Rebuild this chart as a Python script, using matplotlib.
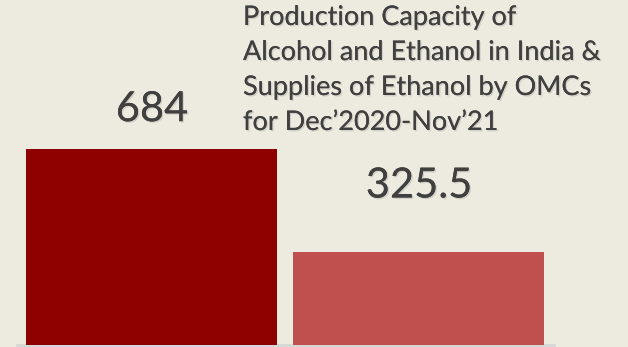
import matplotlib.pyplot as plt
import matplotlib.patheffects as pe

# data
categories = ['Production Capacity', 'Supplies by OMCs']
values = [684, 325.5]
labels = ['684', '325.5']
colors = ['#8E0000', '#C0504D']

bg = '#EDEBE0'
txt = '#404040'
plt.rcParams['font.family'] = ['Lato', 'DejaVu Sans']

fig = plt.figure(figsize=(6.28, 3.47), dpi=100, facecolor=bg)
ax = fig.add_axes([0, 0, 1, 1], facecolor=bg)

x = range(len(values))
bars = ax.bar(x, values, width=0.94, color=colors, zorder=2)
ax.axhline(0, xmin=0.027, xmax=0.882, color='#D6D6D6', lw=2, zorder=1)

# value labels (placed at different heights as in the slide)
shadow = [pe.withSimplePatchShadow(offset=(1, -1), alpha=0.12), pe.Normal()]
for b, lab, pad in zip(bars, labels, [15, 34]):
    ax.annotate(lab, (b.get_x() + b.get_width() / 2, b.get_height()),
                xytext=(0, pad), textcoords='offset points',
                ha='center', va='bottom', fontsize=30, color=txt,
                path_effects=shadow)

ax.set_xlim(-0.569, 1.783)
ax.set_ylim(-7, 1204)
ax.axis('off')

fig.text(243 / 628, 1 - 5 / 347,
         'Production Capacity of\nAlcohol and Ethanol in India &\n'
         'Supplies of Ethanol by OMCs\nfor Dec\u20192020-Nov\u201921',
         ha='left', va='top', fontsize=19.5, color=txt, linespacing=1.5,
         path_effects=shadow)

fig.savefig('out.png', dpi=100, facecolor=bg)
